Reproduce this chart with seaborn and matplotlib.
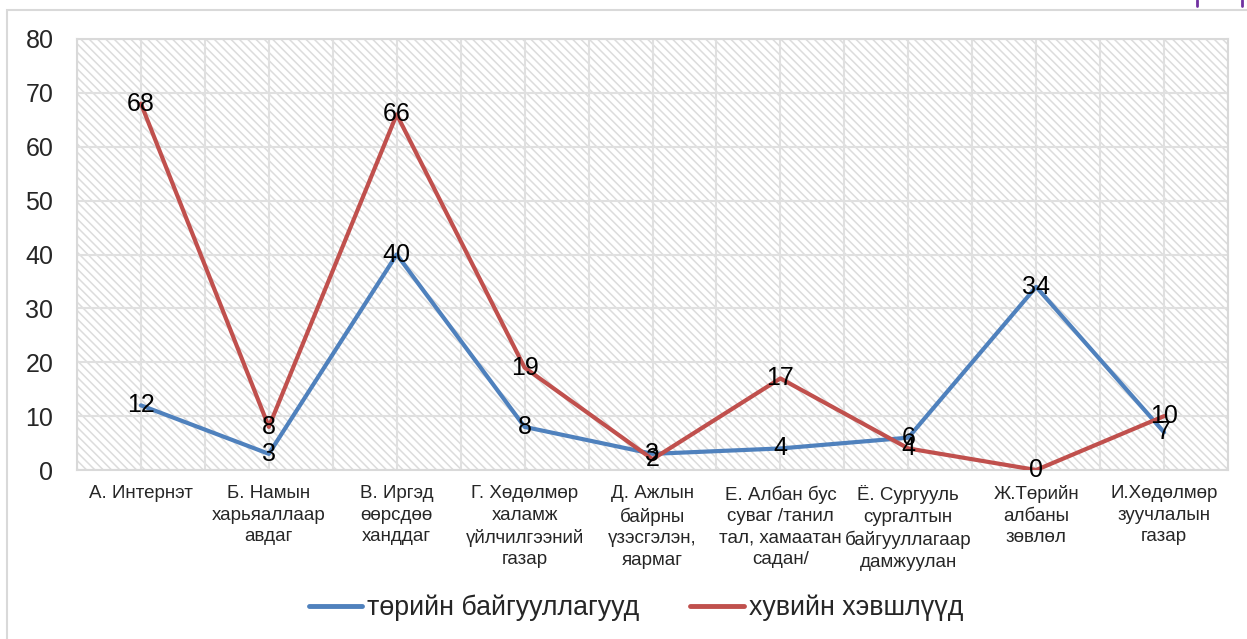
import matplotlib
matplotlib.use("Agg")
import matplotlib.pyplot as plt
import seaborn as sns
import pandas as pd
from matplotlib.patches import Rectangle
from matplotlib.lines import Line2D
from matplotlib.ticker import FixedLocator

categories = [
    "А. Интернэт",
    "Б. Намын\nхарьяаллаар\nавдаг",
    "В. Иргэд\nөөрсдөө\nханддаг",
    "Г. Хөдөлмөр\nхаламж\nүйлчилгээний\nгазар",
    "Д. Ажлын\nбайрны\nүзэсгэлэн,\nяармаг",
    "Е. Албан бус\nсуваг /танил\nтал, хамаатан\nсадан/",
    "Ё. Сургууль\nсургалтын\nбайгууллагаар\nдамжуулан",
    "Ж.Төрийн\nалбаны\nзөвлөл",
    "И.Хөдөлмөр\nзуучлалын\nгазар",
]
public_orgs = [12, 3, 40, 8, 3, 4, 6, 34, 7]
private_sector = [68, 8, 66, 19, 2, 17, 4, 0, 10]
series_names = ["төрийн байгууллагууд", "хувийн хэвшлүүд"]
series_colors = ["#4F81BD", "#C0504D"]
y_ticks = [0, 10, 20, 30, 40, 50, 60, 70, 80]

sns.set_theme(style="white")
plt.rcParams["font.family"] = ["Liberation Sans", "DejaVu Sans"]
plt.rcParams["hatch.color"] = "#DCDCDC"
plt.rcParams["hatch.linewidth"] = 1.1

df = pd.DataFrame({
    "idx": list(range(len(categories))) * 2,
    "value": public_orgs + private_sector,
    "series": [series_names[0]] * len(categories) + [series_names[1]] * len(categories),
})

fig = plt.figure(figsize=(12.47, 6.39), dpi=100)
W, H = 1247, 639
ax = fig.add_axes([77 / W, 1 - 470 / H, (1228 - 77) / W, (470 - 39) / H])

# outer chart frame
fig.patches.append(Rectangle((7 / W, -0.1), 1.2, 1 - 10 / H + 0.1,
                             transform=fig.transFigure, fill=False,
                             edgecolor="#D9D9D9", linewidth=1.5, zorder=0))
# small purple marks on top edge
for xp in (1197, 1242):
    fig.lines.append(Line2D([xp / W, xp / W], [1, 1 - 6 / H],
                            transform=fig.transFigure, color="#7030A0", linewidth=2.0))

# hatched plot area
ax.set_facecolor("white")
ax.add_patch(Rectangle((0, 0), 1, 1, transform=ax.transAxes, facecolor="white",
                       hatch="\\\\\\\\", edgecolor="#DCDCDC", linewidth=0, zorder=0))

sns.lineplot(data=df, x="idx", y="value", hue="series", palette=series_colors,
             linewidth=3, ax=ax, legend=False, zorder=3)

n = len(categories)
ax.set_xlim(-0.5, n - 0.5)
ax.set_ylim(0, 80)
ax.yaxis.set_major_locator(FixedLocator(y_ticks))
ax.set_xticks(range(n))
ax.set_xticklabels(categories, fontsize=13.5, linespacing=1.35)
ax.xaxis.set_minor_locator(FixedLocator([i + 0.5 for i in range(-1, n)]))
ax.tick_params(axis="both", length=0, which="both")
ax.tick_params(axis="x", pad=11)
ax.tick_params(axis="y", labelsize=18, pad=17)
ax.set_xlabel("")
ax.set_ylabel("")
ax.grid(True, which="major", color="#E0E0E0", linewidth=1.5, zorder=1)
ax.grid(True, which="minor", axis="x", color="#E0E0E0", linewidth=1.5, zorder=1)
ax.set_axisbelow(True)
for s in ax.spines.values():
    s.set_color("#D9D9D9")
    s.set_linewidth(1.5)

# value labels centred on points
for vals in (private_sector, public_orgs):
    for i, v in enumerate(vals):
        ax.text(i, v, str(v), ha="center", va="center", fontsize=18,
                color="black", zorder=5)

handles = [Line2D([], [], color=c, linewidth=3.5, solid_capstyle="round") for c in series_colors]
fig.legend(handles, series_names, loc="center", bbox_to_anchor=(636 / W, 1 - 608 / H),
           ncol=2, frameon=False, fontsize=19.3, handlelength=2.0, handletextpad=0.19,
           columnspacing=1.9)

fig.savefig("out.png", dpi=100)
